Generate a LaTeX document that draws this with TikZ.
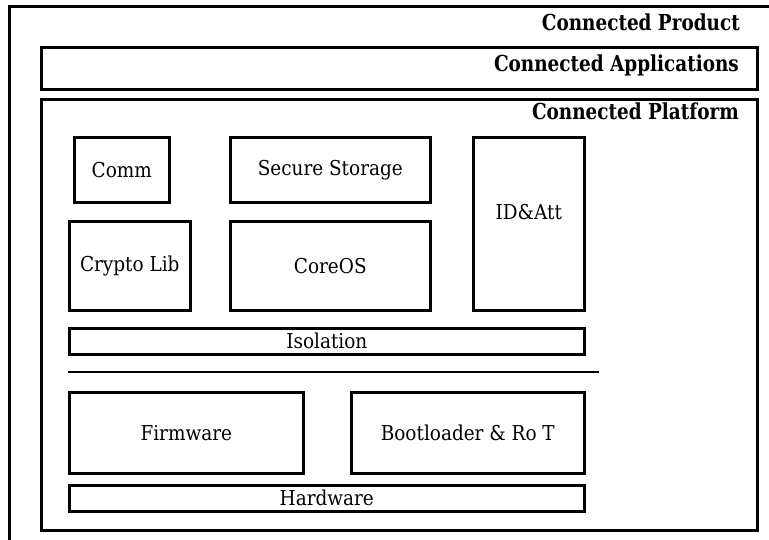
\documentclass[tikz,border=0pt]{standalone}
\usepackage{fontspec}
\usetikzlibrary{calc}
\setmainfont{DejaVu Serif Condensed}
\newfontfamily\boxfont{DejaVu Serif Condensed}
\newfontfamily\ttlfont{DejaVu Serif Condensed}[FakeStretch=0.93]
\begin{document}
\begin{tikzpicture}[x=1pt,y=-1pt,
  blk/.style={draw, line width=2.6pt, inner sep=0pt, anchor=north west},
  lbl/.style={font=\boxfont\fontsize{20.5}{23}\selectfont},
  ttl/.style={font=\ttlfont\bfseries\fontsize{22}{24}\selectfont, inner sep=0pt, anchor=base east}]
\useasboundingbox (0,0) rectangle (769,540);
\clip (0,0) rectangle (769,540);
\fill[white] (0,0) rectangle (769,540);
% outer frame (extends beyond the picture)
\node[blk, line width=3pt, minimum width=900pt, minimum height=700pt] (product) at (8,5) {};
\node[ttl] (producttxt) at (740,30.5) {Connected Product};
% applications
\node[blk, minimum width=716pt, minimum height=42pt] (apps) at (40,46) {};
\node[ttl] (appstxt) at (739,72) {Connected Applications};
% platform
\node[blk, minimum width=716pt, minimum height=431pt] (platform) at (40,98) {};
\node[ttl] (platformtxt) at (739,120) {Connected Platform};
% inner boxes
\node[blk, minimum width=95pt, minimum height=65pt] (comm) at (73,136) {};
\node[lbl] at (comm.center) {Comm};
\node[blk, minimum width=200pt, minimum height=65pt] (storage) at (229,136) {};
\node[lbl] at (storage.center) {Secure Storage};
\node[blk, minimum width=111pt, minimum height=173pt] (idatt) at (472,136) {};
\node[lbl] at ($(idatt.north)+(0,76)$) {ID\&Att};
\node[blk, minimum width=121pt, minimum height=89pt] (crypto) at (68,220) {};
\node[lbl] at (crypto.center) {Crypto Lib};
\node[blk, minimum width=200pt, minimum height=89pt] (coreos) at (229,220) {};
\node[lbl] at (coreos.center) {CoreOS};
\node[blk, minimum width=515pt, minimum height=26pt] (isolation) at (68,327) {};
\node[lbl] at (isolation.center) {Isolation};
\coordinate (sepL) at (68,372);
\coordinate (sepR) at (599,372);
\draw[line width=1.6pt] (sepL) -- (sepR);
\node[blk, minimum width=234pt, minimum height=81pt] (firmware) at (68,391) {};
\node[lbl] at (firmware.center) {Firmware};
\node[blk, minimum width=233pt, minimum height=81pt] (boot) at (350,391) {};
\node[lbl] at (boot.center) {Bootloader \& Ro T};
\node[blk, minimum width=515pt, minimum height=26pt] (hardware) at (68,484) {};
\node[lbl] at (hardware.center) {Hardware};
\end{tikzpicture}
\end{document}
